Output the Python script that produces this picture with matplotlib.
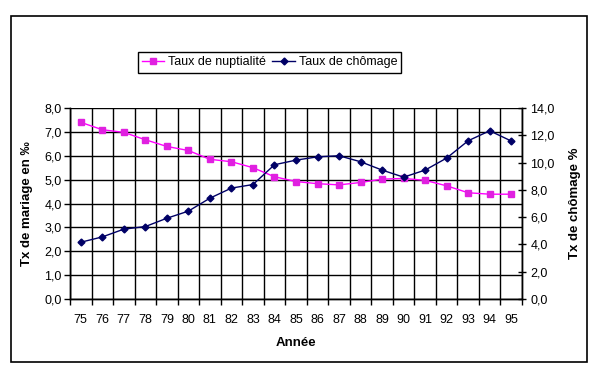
import matplotlib.pyplot as plt
from matplotlib.patches import Rectangle
from matplotlib.ticker import FuncFormatter
import numpy as np

plt.rcParams['font.family'] = ['Liberation Sans', 'DejaVu Sans']

annees = ['75', '76', '77', '78', '79', '80', '81', '82', '83', '84', '85',
          '86', '87', '88', '89', '90', '91', '92', '93', '94', '95']
nuptialite = [7.40, 7.09, 6.98, 6.67, 6.39, 6.22, 5.85, 5.75, 5.50, 5.12, 4.92,
              4.83, 4.78, 4.88, 5.02, 5.05, 4.97, 4.74, 4.45, 4.39, 4.39]
chomage = [4.16, 4.55, 5.12, 5.31, 5.92, 6.44, 7.39, 8.13, 8.39, 9.84, 10.18,
           10.42, 10.50, 10.06, 9.45, 8.93, 9.45, 10.33, 11.60, 12.33, 11.58]

virgule = FuncFormatter(lambda v, p: ('%.1f' % v).replace('.', ','))

fig = plt.figure(figsize=(6, 3.8), dpi=100)
ax = fig.add_axes([70/600, 1 - 299/380, 452/600, 191/380])
ax2 = ax.twinx()

x = np.arange(len(annees))
l1, = ax.plot(x, nuptialite, color='#FF00FF', lw=1, marker='s', ms=4,
              mfc='#E020E0', mec='#E020E0', label='Taux de nuptialité')
l2, = ax2.plot(x, chomage, color='#000066', lw=1, marker='D', ms=3.5,
               mfc='#000066', mec='#000066', label='Taux de chômage')

ax.set_xlim(-0.5, len(annees) - 0.5)
ax.set_ylim(0, 8)
ax2.set_ylim(0, 14)
ax.set_yticks(np.arange(0, 9, 1))
ax2.set_yticks(np.arange(0, 15, 2))
ax.yaxis.set_major_formatter(virgule)
ax2.yaxis.set_major_formatter(virgule)

ax.set_xticks(x)
ax.set_xticklabels(annees)
ax.set_xticks(np.arange(-0.5, len(annees), 1), minor=True)
ax.tick_params(axis='x', which='major', length=0, pad=11, labelsize=9)
ax.tick_params(axis='x', which='minor', length=4, width=1, direction='out')
ax.tick_params(axis='y', length=4, width=1, direction='out', labelsize=9, pad=2)
ax2.tick_params(axis='y', length=6, width=1, direction='inout', labelsize=9, pad=3)

ax.grid(True, which='minor', axis='x', color='black', lw=1)
ax.grid(True, which='major', axis='y', color='black', lw=1)

for a in (ax, ax2):
    a.spines['top'].set_visible(False)
    for s in a.spines.values():
        s.set_linewidth(1)

ax.set_xlabel('Année', fontweight='bold', fontsize=9.5, labelpad=8)
ax.set_ylabel('Tx de mariage en ‰', fontweight='bold', fontsize=9.5, labelpad=8)
ax2.set_ylabel('Tx de chômage %', fontweight='bold', fontsize=9.5, labelpad=10)

leg = fig.legend(handles=[l1, l2], loc='center', bbox_to_anchor=(269.5/600, 1 - 62.5/380),
                 ncol=2, fontsize=9, fancybox=False, handlelength=1.8,
                 handletextpad=0.3, columnspacing=0.5, borderpad=0.35,
                 edgecolor='black', framealpha=1)
leg.get_frame().set_linewidth(1)

fig.patches.append(Rectangle((11/600, 1 - 362/380), 576/600, 346/380,
                             transform=fig.transFigure, fill=False,
                             edgecolor='black', lw=1.2))

fig.savefig('out.png', dpi=100)
